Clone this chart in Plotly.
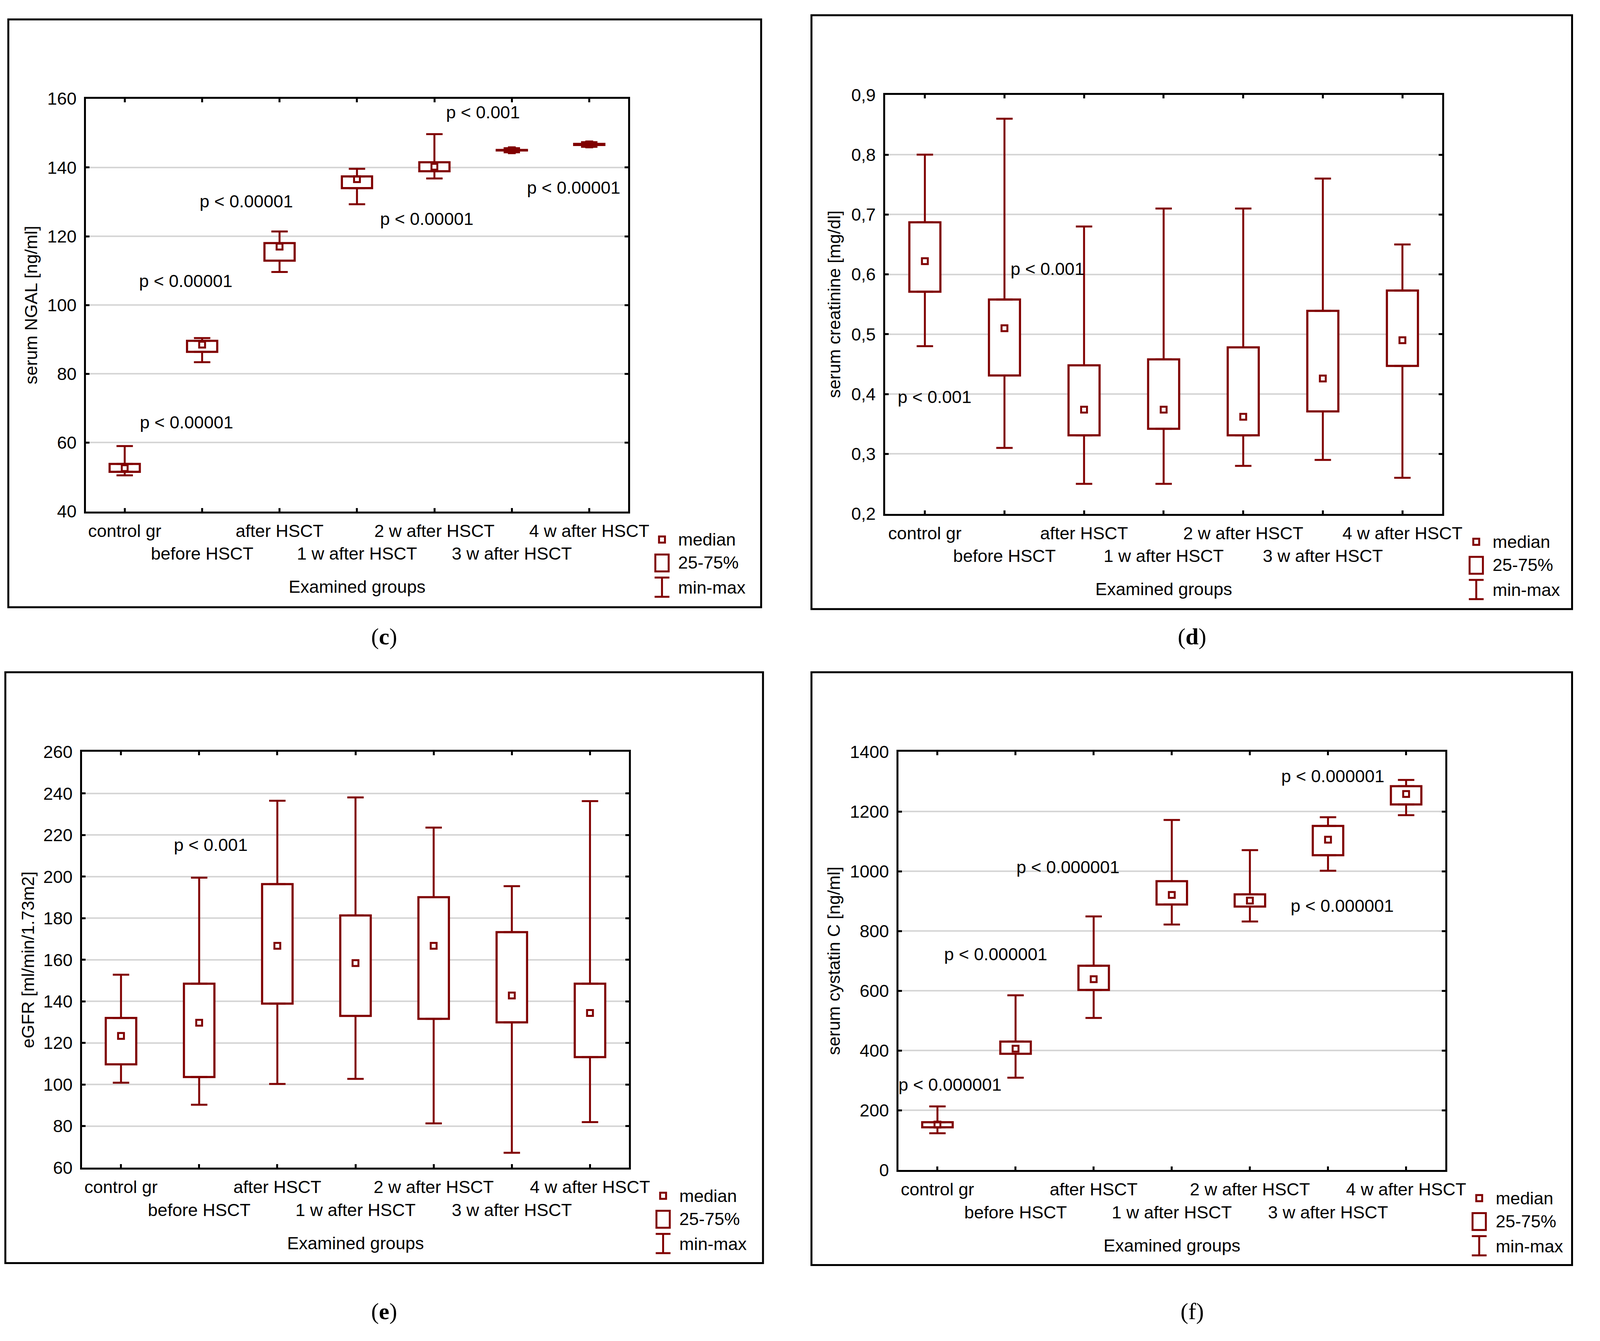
import plotly.graph_objects as go

# Page size (px). The figure fills the window less the 8 px body margin,
# so nothing spills past the visible page.
W, H = 4266, 3434
PAD = 8
FIG_W, FIG_H = W - 2 * PAD, H - 2 * PAD
RED = "#800000"
FONT = "Liberation Sans, Arial, sans-serif"
FS = 45

GROUPS = ["control gr", "before HSCT", "after HSCT", "1 w after HSCT",
          "2 w after HSCT", "3 w after HSCT", "4 w after HSCT"]

# (c) serum NGAL [ng/ml]
ngal_min = [50.5, 83.4, 109.6, 129.3, 136.8, 144.4, 146.0]
ngal_q1 = [51.5, 86.4, 112.9, 134.0, 138.9, 144.95, 146.55]
ngal_median = [52.6, 88.5, 117.0, 136.6, 140.2, 145.0, 146.7]
ngal_q3 = [53.8, 89.6, 118.0, 137.4, 141.5, 145.1, 146.85]
ngal_max = [59.0, 90.4, 121.4, 139.6, 149.7, 145.6, 147.35]
ngal_ticks = [40, 60, 80, 100, 120, 140, 160]
ngal_p = [(4.63, 156.0, "p < 0.001"), (1.57, 130.2, "p < 0.00001"),
          (0.79, 107.0, "p < 0.00001"), (3.90, 125.0, "p < 0.00001"),
          (5.80, 134.1, "p < 0.00001"), (0.80, 65.9, "p < 0.00001")]

# (d) serum creatinine [mg/dl]
crea_min = [0.48, 0.31, 0.25, 0.25, 0.28, 0.29, 0.26]
crea_q1 = [0.571, 0.431, 0.331, 0.342, 0.331, 0.371, 0.447]
crea_median = [0.622, 0.510, 0.374, 0.374, 0.362, 0.426, 0.490]
crea_q3 = [0.687, 0.558, 0.448, 0.458, 0.478, 0.539, 0.573]
crea_max = [0.80, 0.86, 0.68, 0.71, 0.71, 0.76, 0.65]
crea_ticks = [0.2, 0.3, 0.4, 0.5, 0.6, 0.7, 0.8, 0.9]
crea_p = [(1.54, 0.609, "p < 0.001"), (0.12, 0.395, "p < 0.001")]

# (e) eGFR [ml/min/1.73m2]
egfr_min = [100.9, 90.3, 100.3, 102.7, 81.3, 67.2, 81.9]
egfr_q1 = [109.7, 103.6, 138.9, 133.0, 131.6, 129.9, 113.2]
egfr_median = [123.4, 129.7, 166.7, 158.4, 166.7, 142.8, 134.4]
egfr_q3 = [132.0, 148.5, 196.4, 181.3, 190.1, 173.3, 148.5]
egfr_max = [152.8, 199.5, 236.5, 238.1, 223.6, 195.4, 236.3]
egfr_ticks = [60, 80, 100, 120, 140, 160, 180, 200, 220, 240, 260]
egfr_p = [(1.15, 215.2, "p < 0.001")]

# (f) serum cystatin C [ng/ml]
cyst_min = [123, 309, 509, 822, 832, 1002, 1188]
cyst_q1 = [143, 389, 603, 889, 882, 1054, 1224]
cyst_median = [152, 406, 639, 921, 902, 1106, 1259]
cyst_q3 = [160, 430, 684, 967, 923, 1152, 1285]
cyst_max = [213, 585, 849, 1172, 1071, 1181, 1306]
cyst_ticks = [0, 200, 400, 600, 800, 1000, 1200, 1400]
cyst_p = [(5.06, 1319, "p < 0.000001"), (1.67, 1014, "p < 0.000001"),
          (5.18, 884, "p < 0.000001"), (0.745, 723, "p < 0.000001"),
          (0.16, 286, "p < 0.000001")]

LEGEND_TEXT = ["median", "25-75%", "min-max"]


# page pixel -> paper fraction
def px(x):
    return (x - PAD) / FIG_W


def py(y):
    return 1 - (y - PAD) / FIG_H


# panel frame (l, t, r, b) and plot area (l, t, r, b) in page pixels
PANELS = [
    dict(tag="(<b>c</b>)", ytitle="serum NGAL [ng/ml]",
         stats=(ngal_min, ngal_q1, ngal_median, ngal_q3, ngal_max),
         ticks=ngal_ticks, pvals=ngal_p,
         outer=(22, 25, 2057, 1553), plot=(232, 231, 1697, 1304),
         title_x=83, tag_pos=(1038, 1629)),
    dict(tag="(<b>d</b>)", ytitle="serum creatinine [mg/dl]",
         stats=(crea_min, crea_q1, crea_median, crea_q3, crea_max),
         ticks=crea_ticks, pvals=crea_p,
         outer=(2193, 14, 4249, 1558), plot=(2392, 221, 3898, 1310),
         title_x=2254, tag_pos=(3222, 1629)),
    dict(tag="(<b>e</b>)", ytitle="eGFR [ml/min/1.73m2]",
         stats=(egfr_min, egfr_q1, egfr_median, egfr_q3, egfr_max),
         ticks=egfr_ticks, pvals=egfr_p,
         outer=(14, 1722, 2062, 3258), plot=(221, 1929, 1700, 3010),
         title_x=75, tag_pos=(1038, 3383)),
    dict(tag="(f)", ytitle="serum cystatin C [ng/ml]",
         stats=(cyst_min, cyst_q1, cyst_median, cyst_q3, cyst_max),
         ticks=cyst_ticks, pvals=cyst_p,
         outer=(2193, 1722, 4249, 3263), plot=(2428, 1929, 3906, 3016),
         title_x=2254, tag_pos=(3222, 3383)),
]

fig = go.Figure()
shapes = []
annotations = []
axes = {}

xs = list(range(len(GROUPS)))
ticktext = [g if i % 2 == 0 else "<br>" + g for i, g in enumerate(GROUPS)]
zeros = [0] * len(GROUPS)


def line_shape(x0, y0, x1, y1, width=5, color=RED):
    return dict(type="line", xref="paper", yref="paper",
                x0=px(x0), y0=py(y0), x1=px(x1), y1=py(y1),
                line=dict(color=color, width=width))


def rect_shape(x0, y0, x1, y1, width=5, color=RED):
    return dict(type="rect", xref="paper", yref="paper",
                x0=px(x0), y0=py(y0), x1=px(x1), y1=py(y1),
                line=dict(color=color, width=width), fillcolor="rgba(0,0,0,0)")


def text_ann(x, y, text, xanchor="center", size=FS, angle=0, family=FONT):
    return dict(x=px(x), y=py(y), xref="paper", yref="paper", text=text,
                showarrow=False, xanchor=xanchor, yanchor="middle",
                textangle=angle, font=dict(family=family, size=size, color="black"))


for i, p in enumerate(PANELS):
    n = "" if i == 0 else str(i + 1)
    xa, ya = "x" + n, "y" + n
    lo, q1, med, q3, hi = p["stats"]

    # 25-75% box
    fig.add_trace(go.Bar(
        x=xs, y=[b - a for a, b in zip(q1, q3)], base=q1, width=0.39,
        marker=dict(color="white", line=dict(color=RED, width=5.5)),
        xaxis=xa, yaxis=ya, showlegend=False, hoverinfo="skip"))
    # upper whisker q3 -> max
    fig.add_trace(go.Scatter(
        x=xs, y=q3, mode="markers", marker=dict(size=1, color="rgba(0,0,0,0)"),
        error_y=dict(type="data", symmetric=False,
                     array=[h - t for t, h in zip(q3, hi)], arrayminus=zeros,
                     color=RED, thickness=5, width=21),
        xaxis=xa, yaxis=ya, showlegend=False, hoverinfo="skip"))
    # lower whisker q1 -> min
    fig.add_trace(go.Scatter(
        x=xs, y=q1, mode="markers", marker=dict(size=1, color="rgba(0,0,0,0)"),
        error_y=dict(type="data", symmetric=False,
                     array=zeros, arrayminus=[a - l for l, a in zip(lo, q1)],
                     color=RED, thickness=5, width=21),
        xaxis=xa, yaxis=ya, showlegend=False, hoverinfo="skip"))
    # median
    fig.add_trace(go.Scatter(
        x=xs, y=med, mode="markers",
        marker=dict(symbol="square-open", size=15, color=RED,
                    line=dict(color=RED, width=5)),
        xaxis=xa, yaxis=ya, showlegend=False))

    L, T, R, B = p["plot"]
    axes["xaxis" + n] = dict(
        domain=[px(L), px(R)], anchor=ya, range=[-0.5, 6.5],
        tickmode="array", tickvals=xs, ticktext=ticktext, tickangle=0,
        ticks="inside", ticklen=9, tickwidth=5, tickcolor="black",
        showline=True, linecolor="black", linewidth=5, mirror="ticks",
        showgrid=False, zeroline=False, ticklabelstandoff=6,
        tickfont=dict(family=FONT, size=FS, color="black"))
    axes["yaxis" + n] = dict(
        domain=[py(B), py(T)], anchor=xa,
        range=[p["ticks"][0], p["ticks"][-1]],
        tickmode="array", tickvals=p["ticks"],
        ticks="inside", ticklen=9, tickwidth=5, tickcolor="black",
        showline=True, linecolor="black", linewidth=5, mirror="ticks",
        showgrid=True, gridcolor="#d6d6d6", gridwidth=4, zeroline=False,
        ticklabelstandoff=10,
        tickfont=dict(family=FONT, size=FS, color="black"))

    # p-value notes
    for x, y, t in p["pvals"]:
        annotations.append(dict(x=x, y=y, xref=xa, yref=ya, text=t, showarrow=False,
                                font=dict(family=FONT, size=FS, color="black")))

    # titles
    annotations.append(text_ann(p["title_x"], (T + B) / 2, p["ytitle"], angle=-90))
    annotations.append(text_ann((L + R) / 2, B + 196, "Examined groups"))
    annotations.append(text_ann(p["tag_pos"][0], p["tag_pos"][1], p["tag"],
                                size=60, family="Liberation Serif, Times New Roman, serif"))

    # panel frame
    ol, ot, orr, ob = p["outer"]
    shapes.append(rect_shape(ol, ot, orr, ob, color="black"))

    # legend: median / 25-75% / min-max
    cx = R + 92
    shapes.append(rect_shape(cx - 8, B + 65, cx + 8, B + 81))
    shapes.append(rect_shape(cx - 18, B + 112, cx + 18, B + 156))
    shapes.append(line_shape(cx, B + 172, cx, B + 222))
    shapes.append(line_shape(cx - 20, B + 172, cx + 20, B + 172))
    shapes.append(line_shape(cx - 20, B + 222, cx + 20, B + 222))
    for k, t in enumerate(LEGEND_TEXT):
        annotations.append(text_ann(R + 134, B + [73, 133, 198][k], t, xanchor="left"))

fig.update_layout(
    autosize=True,
    margin=dict(l=0, r=0, t=0, b=0),
    paper_bgcolor="white", plot_bgcolor="white",
    separators=",.",
    showlegend=False,
    font=dict(family=FONT, size=FS, color="black"),
    shapes=shapes, annotations=annotations,
    **axes
)

fig.write_html("out.html",
               default_width="calc(100vw - 16px)",
               default_height="calc(100vh - 16px)",
               config={"responsive": True})
